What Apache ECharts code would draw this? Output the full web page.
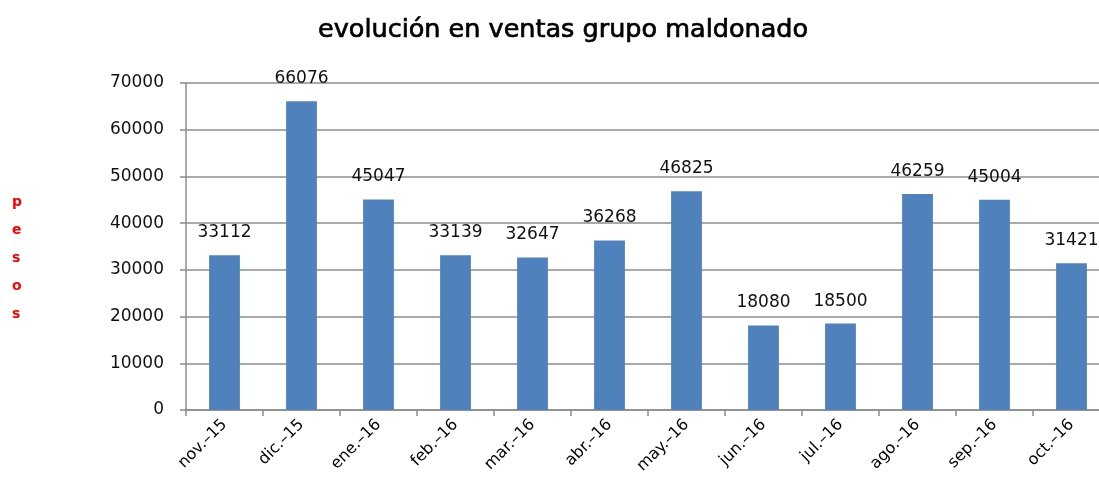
<!DOCTYPE html>
<html>
<head>
<meta charset="utf-8">
<script src="https://cdn.jsdelivr.net/npm/echarts@6/dist/echarts.min.js"></script>
<style>
  html, body { margin: 0; padding: 0; background: #fff; }
  #main { width: 1099px; height: 488px; }
</style>
</head>
<body>
<div id="main"></div>
<script>
// meses
var months = ['nov.–15', 'dic.–15', 'ene.–16', 'feb.–16', 'mar.–16', 'abr.–16',
              'may.–16', 'jun.–16', 'jul.–16', 'ago.–16', 'sep.–16', 'oct.–16'];
// ventas en pesos
var ventas = [33112, 66076, 45047, 33139, 32647, 36268, 46825, 18080, 18500, 46259, 45004, 31421];
var yMax = 70000;
var yStep = 10000;

var chart = echarts.init(document.getElementById('main'));
var font = 'DejaVu Sans';

var option = {
    animation: false,
    textStyle: { fontFamily: font },
    title: {
        text: 'evolución en ventas grupo maldonado',
        left: 313,
        top: 12,
        textStyle: {
            fontSize: 25.5, fontWeight: 'normal', color: '#000', fontFamily: font,
            textBorderColor: '#000', textBorderWidth: 0.7
        }
    },
    graphic: [{
        type: 'text',
        left: 12,
        top: 188,
        style: {
            text: 'p\ne\ns\no\ns',
            fill: '#ff0000',
            font: 'bold 14px ' + font,
            lineHeight: 28,
            align: 'center'
        }
    }],
    // el área de trazado sale del lienzo por la derecha, como en el original
    grid: { left: 186, width: 924, top: 83, bottom: 78, outerBoundsMode: 'none' },
    xAxis: {
        type: 'category',
        data: months,
        axisLine: { lineStyle: { color: '#8c8c8c', width: 1.5 } },
        axisTick: { show: true, length: 6, lineStyle: { color: '#8c8c8c', width: 1.5 } },
        axisLabel: { rotate: 45, fontSize: 16, color: '#000', margin: 12, interval: 0 }
    },
    yAxis: {
        type: 'value',
        min: 0,
        max: yMax,
        interval: yStep,
        axisLine: { show: true, lineStyle: { color: '#8c8c8c', width: 1.5 } },
        axisTick: { show: true, length: 6, lineStyle: { color: '#8c8c8c', width: 1.5 } },
        splitLine: { lineStyle: { color: '#8c8c8c', width: 1.5 } },
        axisLabel: { fontSize: 17, color: '#111', margin: 22, formatter: function (v) { return String(v); } }
    },
    series: [{
        type: 'bar',
        data: ventas,
        barWidth: '40%',
        itemStyle: { color: '#4f81bd' },
        label: {
            show: true,
            position: 'top',
            distance: 14,
            fontSize: 17,
            color: '#111'
        }
    }]
};

chart.setOption(option);
</script>
</body>
</html>
